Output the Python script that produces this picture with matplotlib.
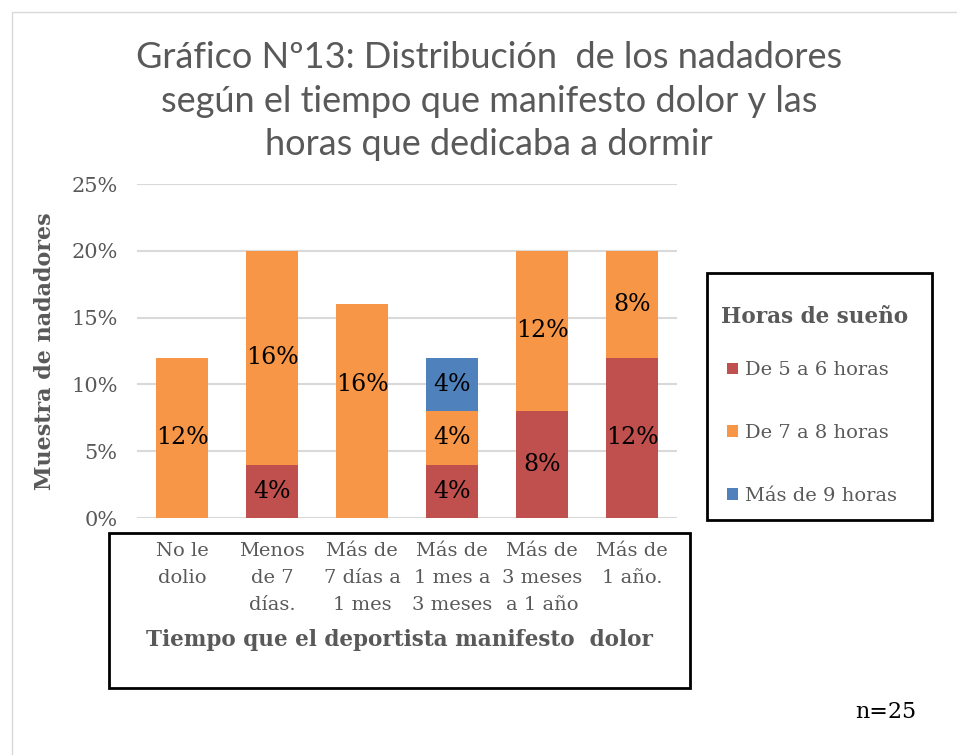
import numpy as np
import matplotlib.pyplot as plt
from matplotlib.patches import Rectangle

# Datos del gráfico
categorias = ["No le\ndolio", "Menos\nde 7\ndías.", "Más de\n7 días a\n1 mes",
              "Más de\n1 mes a\n3 meses", "Más de\n3 meses\na 1 año", "Más de\n1 año."]
series = ["De 5 a 6 horas", "De 7 a 8 horas", "Más de 9 horas"]
de5a6 = [0, 4, 0, 4, 8, 12]
de7a8 = [12, 16, 16, 4, 12, 8]
mas9 = [0, 0, 0, 4, 0, 0]
colores = ["#C0504D", "#F79646", "#4F81BD"]

W, H = 957, 755
fig = plt.figure(figsize=(W / 100, H / 100), dpi=100)

# borde del area del grafico
fig.patches.append(Rectangle((12 / W, -0.01), 1.02, 1 - 12 / H + 0.01, transform=fig.transFigure,
                             fill=False, edgecolor="#D9D9D9", lw=1))

ax = fig.add_axes([137 / W, 1 - 518 / H, 540 / W, (518 - 184) / H])
x = np.arange(len(categorias))
ancho = 0.57

base = np.zeros(len(categorias))
barras = []
for vals, nombre, col in zip([de5a6, de7a8, mas9], series, colores):
    vals = np.array(vals, dtype=float)
    b = ax.bar(x, vals, ancho, bottom=base, color=col, label=nombre, zorder=3)
    barras.append(b)
    for i, v in enumerate(vals):
        if v > 0:
            y = base[i] + v / 2
            if i == 2:
                y += 2  # etiqueta movida a mano en el original
            ax.text(x[i], y, f"{v:.0f}%", ha="center", va="center",
                    fontsize=17, family="DejaVu Serif", color="black", zorder=4)
    base += vals

ax.set_ylim(0, 25)
ax.set_xlim(-0.5, len(categorias) - 0.5)
ax.set_yticks(np.arange(0, 26, 5))
ax.set_yticklabels([f"{v}%" for v in range(0, 26, 5)], family="DejaVu Serif",
                   fontsize=15, color="#595959")
ax.yaxis.grid(True, color="#D9D9D9", lw=1.5, zorder=0)
ax.tick_params(axis="both", length=0)
ax.tick_params(axis="y", pad=14)
for s in ax.spines.values():
    s.set_visible(False)

ax.set_xticks(x)
ax.set_xticklabels(categorias, family="DejaVu Serif", fontsize=14, color="#595959",
                   linespacing=1.65)
ax.tick_params(axis="x", pad=17)

ax.set_ylabel("Muestra de nadadores", family="DejaVu Serif", fontweight="bold",
              fontsize=16, color="#595959")
ax.yaxis.set_label_coords((56 - 137) / 540, 0.5)
fig.text(399 / W, 1 - 640 / H, "Tiempo que el deportista manifesto  dolor",
         ha="center", va="center", family="DejaVu Serif", fontweight="bold",
         fontsize=15.5, color="#595959")

# recuadro del eje x
fig.patches.append(Rectangle((109 / W, 1 - 688 / H), (690 - 109) / W, (688 - 533) / H,
                             transform=fig.transFigure, fill=False, edgecolor="black", lw=2))

fig.text(489 / W, 1 - 101 / H,
         "Gráfico Nº13: Distribución  de los nadadores\nsegún el tiempo que manifesto dolor y las\nhoras que dedicaba a dormir",
         ha="center", va="center", family="Lato", fontsize=26,
         color="#595959", linespacing=1.38)

# leyenda
fig.patches.append(Rectangle((707 / W, 1 - 520 / H), (932 - 707) / W, (520 - 273) / H,
                             transform=fig.transFigure, fill=False, edgecolor="black", lw=2))
fig.text(721 / W, 1 - 317 / H, "Horas de sueño", ha="left", va="center",
         family="DejaVu Serif", fontweight="bold", fontsize=15.5, color="#595959")
leg = fig.legend(handles=barras, labels=series, loc="center left",
                 bbox_to_anchor=(727 / W, 1 - 433 / H),
                 prop={"family": "DejaVu Serif", "size": 14},
                 labelspacing=2.3, handlelength=0.55, handleheight=0.55,
                 handletextpad=0.4, borderpad=0, frameon=False, borderaxespad=0)
for t in leg.get_texts():
    t.set_color("#595959")

fig.text(886 / W, 1 - 712 / H, "n=25", ha="center", va="center",
         family="DejaVu Serif", fontsize=16, color="black")

fig.savefig("out.png", dpi=100)
